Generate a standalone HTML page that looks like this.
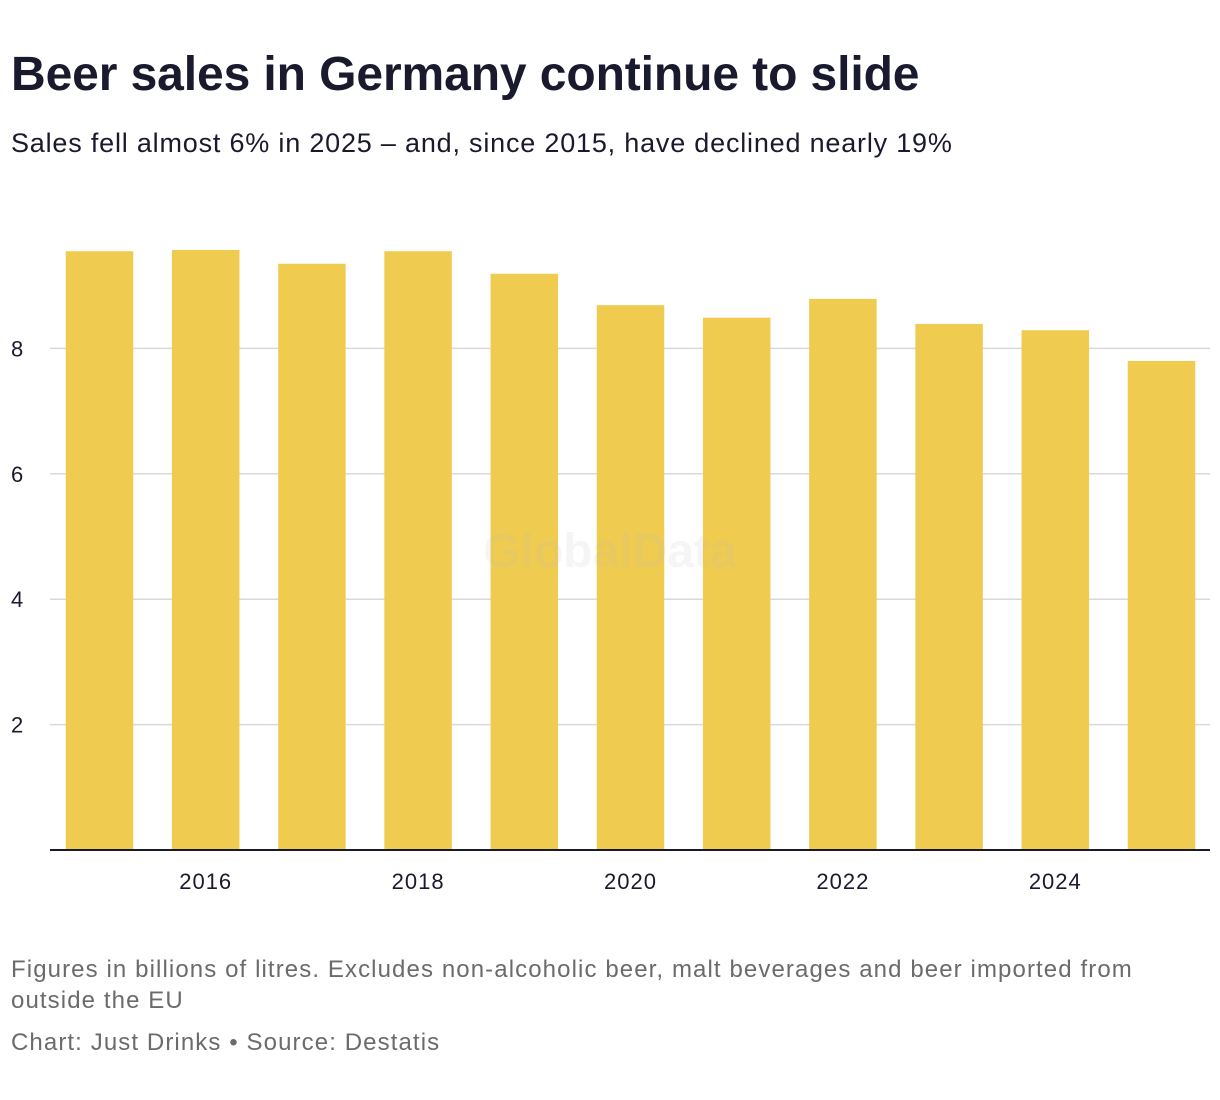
<!DOCTYPE html>
<html><head><meta charset="utf-8">
<style>
body{margin:0;width:1220px;height:1100px;background:#fff;font-family:"Liberation Sans",sans-serif;overflow:hidden;position:relative}
.t{position:absolute;left:11px;top:47px;font-size:48px;font-weight:bold;color:#1a1a2e;letter-spacing:-0.1px;margin:0;line-height:56px;white-space:nowrap}
.s{position:absolute;left:11px;top:128px;font-size:27px;letter-spacing:0.8px;color:#1a1a2e;white-space:nowrap}
.f{position:absolute;left:11px;font-size:24px;letter-spacing:1.1px;color:#6b6b6b;line-height:31px;white-space:nowrap}
svg{position:absolute;left:0;top:0}
</style></head><body>
<h1 class="t">Beer sales in Germany continue to slide</h1>
<div class="s">Sales fell almost 6% in 2025 – and, since 2015, have declined nearly 19%</div>
<svg id="chart" width="1220" height="1100"></svg>
<div class="f" style="top:954px">Figures in billions of litres. Excludes non-alcoholic beer, malt beverages and beer imported from<br>outside the EU</div>
<div class="f" style="top:1027px">Chart: Just Drinks • Source: Destatis</div>
<script>
const years=[2015,2016,2017,2018,2019,2020,2021,2022,2023,2024,2025];
const sales=[9.55,9.57,9.35,9.55,9.19,8.69,8.49,8.79,8.39,8.29,7.80];
const yTicks=[2,4,6,8];
const xTickYears=[2016,2018,2020,2022,2024];
const NS="http://www.w3.org/2000/svg";
const svg=document.getElementById('chart');
const x0=50,x1=1210,y0=850,pxPer=62.7;
const y=v=>y0-v*pxPer;
const step=(1161.5-99.5)/(years.length-1);
const xc=i=>99.5+i*step;
const bw=67.5;
function mk(t,a){const e=document.createElementNS(NS,t);for(const k in a)e.setAttribute(k,a[k]);svg.appendChild(e);return e;}
yTicks.forEach(v=>{
  const l=mk('line',{x1:x0,x2:x1,y1:y(v),y2:y(v),stroke:'#d9d9d9','stroke-width':1.5});
  
  
  const t=mk('text',{x:11,y:y(v)+8,'font-size':22,fill:'#1a1a2e','font-family':'Liberation Sans, sans-serif'});
  t.textContent=v;
  
  
});
years.forEach((yr,i)=>{
  const r=mk('rect',{x:xc(i)-bw/2,y:y(sales[i]),width:bw,height:y0-y(sales[i]),fill:'#efcc4f'});
  
  
});
const wm=mk('text',{x:610,y:567,'text-anchor':'middle','font-size':48,'font-weight':'bold',fill:'rgba(190,190,190,0.15)','font-family':'Liberation Sans, sans-serif'});
wm.textContent='GlobalData';


const ax=mk('line',{x1:x0,x2:x1,y1:y0,y2:y0,stroke:'#1a1a2e','stroke-width':2});


xTickYears.forEach(yr=>{
  const i=years.indexOf(yr);
  const t=mk('text',{x:xc(i),y:889,'text-anchor':'middle','font-size':22,'letter-spacing':1,fill:'#1a1a2e','font-family':'Liberation Sans, sans-serif'});
  t.textContent=yr;
  
  
});
</script>
</body></html>
